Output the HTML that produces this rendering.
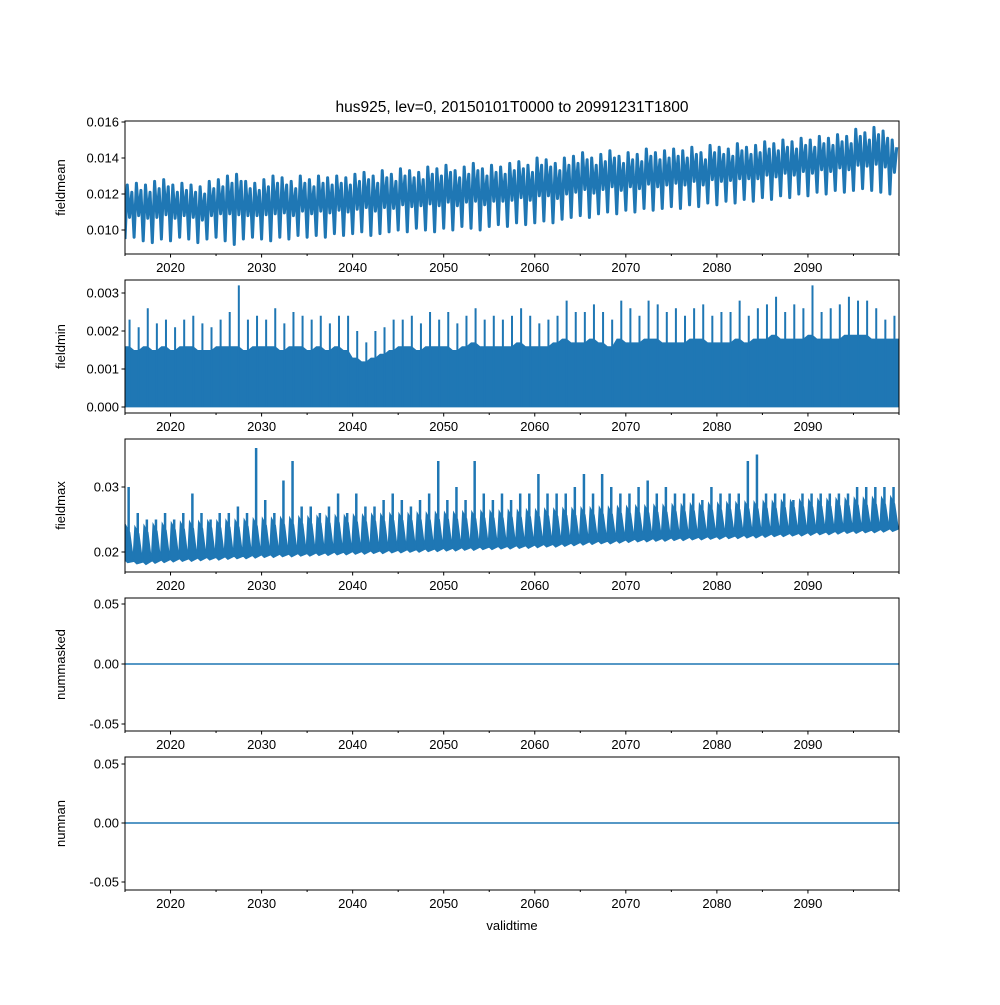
<!DOCTYPE html>
<html><head><meta charset="utf-8"><style>
body{margin:0;background:#fff}
svg text{font-family:"Liberation Sans","DejaVu Sans",sans-serif;font-size:13px;fill:#000}
</style></head><body>
<svg id="fig" width="1000" height="1000" xmlns="http://www.w3.org/2000/svg">
<rect width="1000" height="1000" fill="#fff"/>
<text x="512" y="112" text-anchor="middle" style="font-size:15.5px">hus925, lev=0, 20150101T0000 to 20991231T1800</text>
<text x="512" y="930" text-anchor="middle">validtime</text>
</svg>
<script>
const years=[];for(let y=2015;y<2100;y++)years.push(y);
const xTicks=[2020,2030,2040,2050,2060,2070,2080,2090];
const xMinor=[2025,2035,2045,2055,2065,2075,2085,2095];
const meanPeak=[.0125,.0126,.0125,.0127,.0128,.0125,.0126,.0125,.0124,.0127,
.0128,.0130,.0131,.0127,.0126,.0128,.0130,.0129,.0127,.0130,
.0128,.0130,.0129,.0130,.0129,.0131,.0132,.0130,.0133,.0131,
.0134,.0133,.0132,.0135,.0134,.0136,.0133,.0135,.0137,.0134,
.0136,.0135,.0137,.0138,.0136,.0140,.0139,.0137,.0140,.0141,
.0143,.0140,.0142,.0144,.0141,.0143,.0142,.0145,.0143,.0144,
.0145,.0144,.0146,.0143,.0147,.0146,.0145,.0148,.0146,.0147,
.0149,.0148,.0150,.0149,.0151,.0150,.0152,.0151,.0153,.0152,
.0156,.0154,.0157,.0155,.0150];
const meanTrough=[.0095,.0096,.0094,.0093,.0095,.0094,.0096,.0095,.0093,.0095,
.0096,.0094,.0092,.0095,.0096,.0095,.0094,.0096,.0095,.0097,
.0096,.0097,.0096,.0098,.0097,.0098,.0099,.0097,.0098,.0099,
.0100,.0099,.0101,.0100,.0099,.0101,.0100,.0102,.0101,.0100,
.0102,.0103,.0102,.0104,.0103,.0104,.0105,.0104,.0106,.0107,
.0108,.0107,.0109,.0110,.0109,.0111,.0110,.0112,.0111,.0112,
.0113,.0112,.0114,.0113,.0115,.0114,.0116,.0115,.0117,.0116,
.0118,.0117,.0119,.0118,.0120,.0119,.0121,.0120,.0122,.0121,
.0122,.0123,.0122,.0121,.0120];
const minSpike=[.0023,.0021,.0026,.0022,.0023,.0021,.0023,.0024,.0022,.0021,
.0023,.0025,.0032,.0023,.0024,.0023,.0026,.0022,.0025,.0024,
.0023,.0024,.0022,.0024,.0024,.0020,.0017,.0020,.0021,.0023,
.0023,.0024,.0022,.0025,.0023,.0025,.0022,.0024,.0026,.0023,
.0024,.0023,.0024,.0026,.0024,.0022,.0023,.0024,.0028,.0025,
.0025,.0027,.0025,.0023,.0028,.0026,.0024,.0028,.0027,.0025,
.0026,.0024,.0026,.0027,.0024,.0025,.0025,.0028,.0024,.0026,
.0027,.0029,.0025,.0027,.0026,.0032,.0025,.0026,.0027,.0029,
.0028,.0028,.0026,.0023,.0024];
const minBand=[.0016,.0015,.0016,.0015,.0016,.0015,.0016,.0016,.0015,.0015,
.0016,.0016,.0016,.0015,.0016,.0016,.0016,.0015,.0016,.0016,
.0015,.0016,.0015,.0016,.0015,.0013,.0012,.0013,.0014,.0015,
.0016,.0016,.0015,.0016,.0016,.0016,.0015,.0016,.0017,.0016,
.0016,.0016,.0016,.0017,.0016,.0016,.0016,.0017,.0018,.0017,
.0017,.0018,.0017,.0016,.0018,.0017,.0017,.0018,.0018,.0017,
.0017,.0017,.0018,.0018,.0017,.0017,.0017,.0018,.0017,.0018,
.0018,.0019,.0018,.0018,.0018,.0019,.0018,.0018,.0018,.0019,
.0019,.0019,.0018,.0018,.0018];
const maxPeak=[.030,.026,.025,.025,.026,.025,.026,.029,.026,.025,
.026,.026,.027,.026,.036,.028,.026,.031,.034,.027,
.027,.026,.027,.029,.026,.029,.027,.027,.028,.029,
.028,.027,.028,.029,.034,.028,.030,.028,.034,.029,
.028,.029,.028,.029,.029,.032,.029,.029,.029,.030,
.032,.029,.032,.030,.029,.029,.030,.031,.029,.030,
.029,.029,.029,.028,.030,.029,.029,.029,.034,.035,
.029,.029,.029,.028,.029,.029,.029,.029,.029,.029,
.030,.030,.030,.030,.030];
const maxTrough=[.0188,.0186,.0185,.0187,.0188,.0189,.0190,.0190,.0191,.0192,
.0192,.0193,.0194,.0194,.0195,.0196,.0196,.0197,.0197,.0198,
.0198,.0199,.0199,.0200,.0200,.0201,.0201,.0202,.0202,.0203,
.0203,.0204,.0204,.0205,.0205,.0206,.0206,.0207,.0207,.0208,
.0208,.0209,.0209,.0210,.0210,.0211,.0212,.0212,.0213,.0214,
.0215,.0216,.0217,.0217,.0218,.0219,.0220,.0220,.0221,.0221,
.0222,.0222,.0223,.0223,.0224,.0224,.0225,.0225,.0226,.0226,
.0227,.0228,.0228,.0229,.0229,.0230,.0231,.0231,.0232,.0233,
.0233,.0234,.0234,.0235,.0236];
const maxBand=[.0240,.0238,.0240,.0242,.0243,.0244,.0245,.0246,.0246,.0247,
.0247,.0248,.0248,.0249,.0250,.0251,.0251,.0252,.0252,.0253,
.0253,.0254,.0254,.0255,.0255,.0256,.0256,.0257,.0257,.0258,
.0258,.0258,.0259,.0259,.0260,.0260,.0260,.0261,.0261,.0262,
.0262,.0262,.0263,.0263,.0264,.0264,.0265,.0265,.0266,.0266,
.0267,.0267,.0268,.0268,.0269,.0269,.0270,.0270,.0271,.0271,
.0272,.0272,.0273,.0273,.0274,.0274,.0275,.0275,.0276,.0276,
.0277,.0277,.0278,.0278,.0279,.0279,.0280,.0280,.0281,.0281,
.0282,.0282,.0283,.0283,.0284];
const panels=[
 {name:'fieldmean',top:121,bot:254,v0:0.010,p0:230,v1:0.016,p1:122,ticks:[0.010,0.012,0.014,0.016],fmt:v=>v.toFixed(3)},
 {name:'fieldmin',top:280,bot:413,v0:0,p0:407,v1:0.003,p1:293,ticks:[0,0.001,0.002,0.003],fmt:v=>v.toFixed(3)},
 {name:'fieldmax',top:439,bot:572,v0:0.02,p0:552,v1:0.03,p1:487,ticks:[0.02,0.03],fmt:v=>v.toFixed(2)},
 {name:'nummasked',top:598,bot:731,v0:0,p0:664,v1:0.05,p1:604,ticks:[-0.05,0,0.05],fmt:v=>v.toFixed(2)},
 {name:'numnan',top:757,bot:890,v0:0,p0:823,v1:0.05,p1:764,ticks:[-0.05,0,0.05],fmt:v=>v.toFixed(2)}];
const L=125,R=899,C='#1f77b4';
const xs=t=>L+(t-2015)*(R-L)/85;
const svg=document.getElementById('fig');const NS='http://www.w3.org/2000/svg';
function mk(tag,attrs,parent){const e=document.createElementNS(NS,tag);for(const k in attrs)e.setAttribute(k,attrs[k]);(parent||svg).appendChild(e);return e;}
panels.forEach((p,pi)=>{
 const ys=v=>p.p0+(v-p.v0)*(p.p1-p.p0)/(p.v1-p.v0);
 const g=mk('g',{});
 
 
 const clip=mk('clipPath',{id:'c'+pi},g);mk('rect',{x:L,y:p.top,width:R-L,height:p.bot-p.top},clip);
 const dg=mk('g',{'clip-path':'url(#c'+pi+')'},g);
 
 
 if(p.name==='fieldmean'){
  let d='';years.forEach((y,i)=>{d+=(i?'L':'M')+xs(y)+' '+ys(meanTrough[i])+'L'+xs(y+0.25)+' '+ys(meanPeak[i])+'L'+xs(y+0.5)+' '+ys((meanTrough[i]+meanPeak[i])/2-0.0003)+'L'+xs(y+0.75)+' '+ys(meanPeak[i]-0.0004);});
  mk('path',{d:d,fill:'none',stroke:C,'stroke-width':3,'stroke-linejoin':'round'},dg);
 } else if(p.name==='fieldmin'){
  let d='M'+L+' '+ys(0);years.forEach((y,i)=>{d+='L'+xs(y)+' '+ys(minBand[i])+'L'+xs(y+0.5)+' '+ys(minBand[i]);});
  d+='L'+(R+2)+' '+ys(minBand[84])+'L'+(R+2)+' '+ys(0)+'Z';mk('path',{d:d,fill:C},dg);
  mk('line',{x1:L,x2:R,y1:ys(0.00003),y2:ys(0.00003),stroke:C,'stroke-width':3},dg);
  years.forEach((y,i)=>{const s=mk('line',{x1:xs(y+0.5),x2:xs(y+0.5),y1:ys(0),y2:ys(minSpike[i]),stroke:C,'stroke-width':2},dg);
   
   });
 } else if(p.name==='fieldmax'){
  let d='M'+xs(2015)+' '+ys(maxTrough[0]);years.forEach((y,i)=>{d+='L'+xs(y+0.1)+' '+ys(maxBand[i])+'L'+xs(y+0.5)+' '+ys(maxBand[i]-0.001)+'L'+xs(y+0.9)+' '+ys(maxTrough[i]);});
  d+='L'+R+' '+ys(maxTrough[84]);for(let i=84;i>=0;i--){d+='L'+xs(years[i]+0.3)+' '+ys(maxTrough[i]-0.0004)+'L'+xs(years[i])+' '+ys(maxTrough[i]);}
  d+='Z';mk('path',{d:d,fill:C,stroke:C,'stroke-width':1.5},dg);
  years.forEach((y,i)=>{const s=mk('line',{x1:xs(y+0.4),x2:xs(y+0.4),y1:ys(maxTrough[i]+0.002),y2:ys(maxPeak[i]),stroke:C,'stroke-width':2.5},dg);
   
   });
 } else {
  mk('line',{x1:L,x2:R,y1:ys(0),y2:ys(0),stroke:C,'stroke-width':1.5},dg);
 }
 mk('rect',{x:L,y:p.top,width:R-L,height:p.bot-p.top,fill:'none',stroke:'#000','stroke-width':1},g);
 p.ticks.forEach(v=>{const y=ys(v);mk('line',{x1:L-3.5,x2:L,y1:y,y2:y,stroke:'#000'},g);
  const t=mk('text',{x:L-6,y:y+4.5,'text-anchor':'end'},g);t.textContent=p.fmt(v);
  
  });
 xTicks.forEach(v=>{const x=xs(v);mk('line',{x1:x,x2:x,y1:p.bot,y2:p.bot+3.5,stroke:'#000'},g);
  const t=mk('text',{x:x,y:p.bot+18,'text-anchor':'middle'},g);t.textContent=v;
  
  });
 xMinor.concat([2015,2100]).forEach(v=>{const x=xs(v);mk('line',{x1:x,x2:x,y1:p.bot,y2:p.bot+2,stroke:'#000'},g);});
 const cy=(p.top+p.bot)/2;
 const yl=mk('text',{x:0,y:0,'text-anchor':'middle',transform:'translate(65,'+cy+') rotate(-90)'},g);yl.textContent=p.name;
 
 
});
</script>
</body></html>
